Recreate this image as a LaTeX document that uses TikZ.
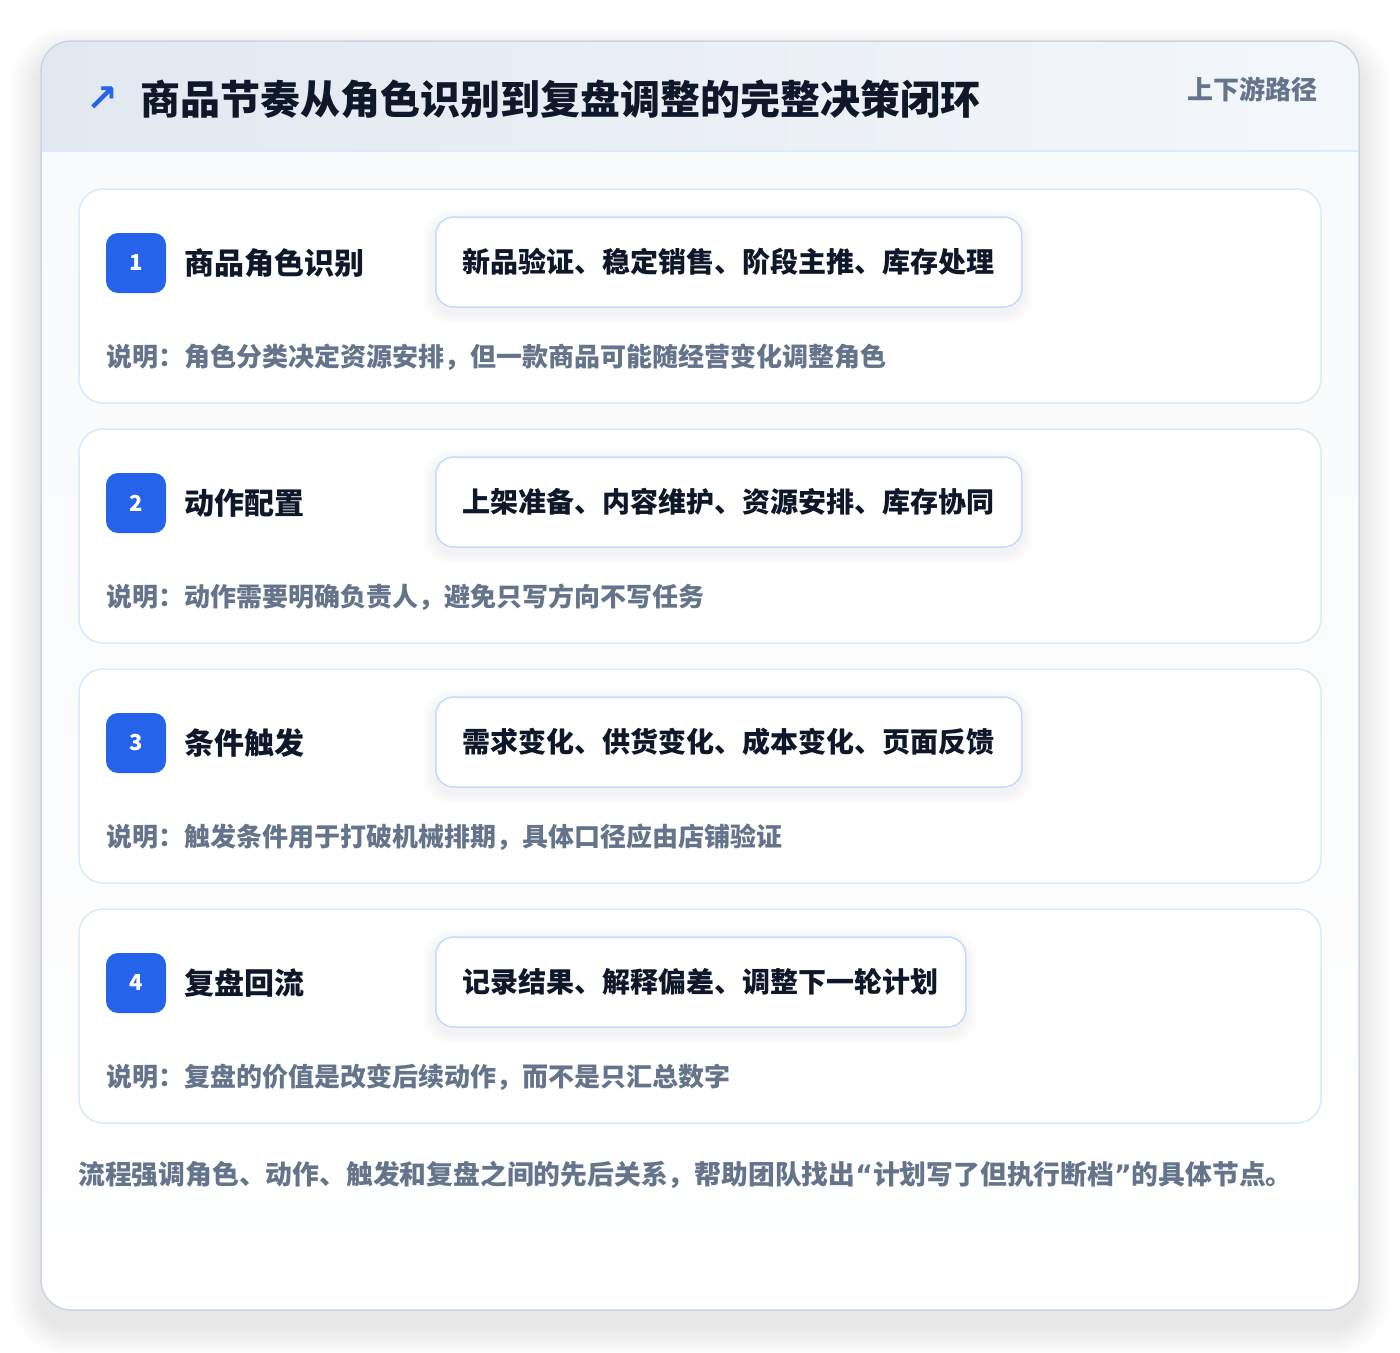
\documentclass[tikz,border=0pt]{standalone}
\usepackage{fontspec}
\setmainfont{Noto Sans CJK SC}
\newfontfamily\symfont{DejaVu Sans}

\definecolor{brandblue}{HTML}{2563EB}
\definecolor{inkdark}{HTML}{0F172A}
\definecolor{inkgrey}{HTML}{64748B}
\definecolor{cardline}{HTML}{CBD5E1}
\definecolor{stepline}{HTML}{DBEAFE}
\definecolor{tagline}{HTML}{BFDBFE}
\definecolor{headleft}{HTML}{E2E8F0}
\definecolor{headright}{HTML}{F4F7FB}
\definecolor{bodytop}{HTML}{F8FAFC}
\definecolor{shadowgrey}{HTML}{334155}

\tikzset{
  stepcard/.style = {draw = stepline, line width = 1.5pt, fill = white, rounded corners = 24pt},
  badge/.style = {fill = brandblue, rounded corners = 12pt, minimum size = 60pt, inner sep = 0pt,
    text = white, font = \bfseries\fontsize{22}{26}\selectfont},
  stepname/.style = {anchor = west, inner sep = 0pt, text = inkdark, font = \bfseries\fontsize{30}{36}\selectfont},
  tagbox/.style = {anchor = west, draw = tagline, line width = 1.5pt, fill = white, rounded corners = 18pt,
    minimum height = 90pt, inner xsep = 27pt, text = inkdark, font = \bfseries\fontsize{28}{34}\selectfont},
  notetext/.style = {anchor = west, inner sep = 0pt, text = inkgrey, font = \bfseries\fontsize{26}{32}\selectfont},
  softshade/.style = {fill = shadowgrey, opacity = #1}
}

\begin{document}
\begin{tikzpicture}[x = 1pt, y = -1pt]
    \useasboundingbox[fill = white] (0,0) rectangle (1400,1352);
    % soft shadow of the outer card
    \foreach \k in {1,...,12}
      \fill[softshade = 0.007, rounded corners = 30pt + 2.5*\k]
        (41 - 2.5*\k, 57 - 2.5*\k) rectangle (1359 + 2.5*\k, 1326 + 2.5*\k);
    % outer card with header band
    \begin{scope}
      \clip[rounded corners = 30pt] (41,41) rectangle (1359,1310);
      \shade[top color = bodytop, bottom color = white] (41,151) rectangle (1359,1310);
      \shade[left color = headleft, right color = headright] (41,41) rectangle (1359,151);
      \draw[stepline, line width = 1.5pt] (41,151) -- (1359,151);
    \end{scope}
    \draw[cardline, line width = 1.5pt, rounded corners = 30pt] (41,41) rectangle (1359,1310);
    \node[inner sep = 0pt, text = brandblue, font = \symfont\bfseries\fontsize{38}{44}\selectfont] (icon) at (102,99) {↗};
    \node[anchor = west, inner sep = 0pt, text = inkdark, font = \bfseries\fontsize{40}{48}\selectfont] (title) at (140,99)
      {商品节奏从角色识别到复盘调整的完整决策闭环};
    \node[anchor = east, inner sep = 0pt, text = inkgrey, font = \bfseries\fontsize{26}{32}\selectfont] (route) at (1318,89)
      {上下游路径};
    % the four steps
    \foreach \i/\name/\tags/\note/\tagw in {
      1/商品角色识别/新品验证、稳定销售、阶段主推、库存处理/说明：角色分类决定资源安排，但一款商品可能随经营变化调整角色/586,
      2/动作配置/上架准备、内容维护、资源安排、库存协同/说明：动作需要明确负责人，避免只写方向不写任务/586,
      3/条件触发/需求变化、供货变化、成本变化、页面反馈/说明：触发条件用于打破机械排期，具体口径应由店铺验证/586,
      4/复盘回流/记录结果、解释偏差、调整下一轮计划/说明：复盘的价值是改变后续动作，而不是只汇总数字/530} {
      \pgfmathsetmacro\top{189 + 240*(\i - 1)}
      \draw[stepcard] (79,\top) rectangle (1321,\top + 214);
      \foreach \k in {1,...,6}
        \fill[softshade = 0.008, rounded corners = 18pt + 2*\k]
          (435 - 2*\k, \top + 32 - 2*\k) rectangle (435 + \tagw + 2*\k, \top + 124 + 2*\k);
      \node[badge] (badge\i) at (136,\top + 74) {\i};
      \node[stepname] (name\i) at (184,\top + 74) {\name};
      \node[tagbox] (tags\i) at (435,\top + 73) {\tags};
      \node[notetext] (note\i) at (106,\top + 168) {\note};
    }
    \node[notetext, font = \bfseries\fontsize{26.8}{32}\selectfont] (footer) at (78,1175)
      {流程强调角色、动作、触发和复盘之间的先后关系，帮助团队找出{\symfont “}计划写了但执行断档{\symfont ”}的具体节点。};
\end{tikzpicture}
\end{document}
